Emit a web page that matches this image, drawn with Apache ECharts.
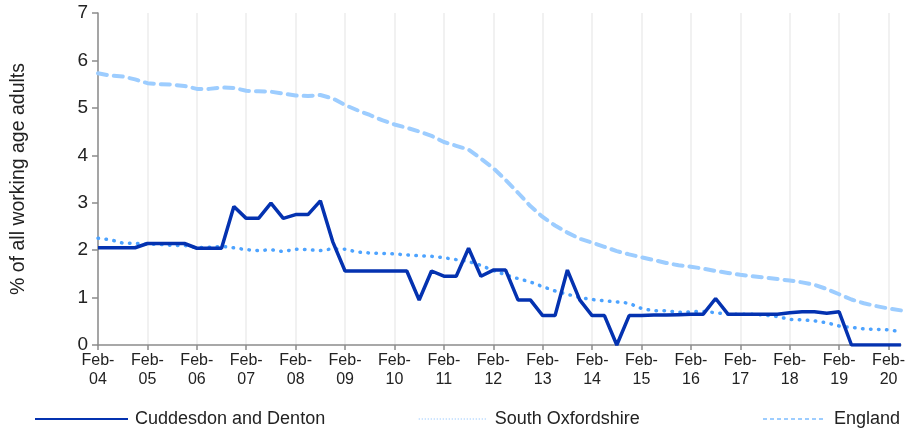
<!DOCTYPE html>
<html>
<head>
<meta charset="utf-8">
<script src="https://cdn.jsdelivr.net/npm/echarts@6/dist/echarts.min.js"></script>
<style>
  html, body { margin: 0; padding: 0; background: #fff; }
  #chart { width: 908px; height: 430px; }
</style>
</head>
<body>
<div id="chart"></div>
<script>
// quarterly points, Feb-04 .. May-20
var years = ['04','05','06','07','08','09','10','11','12','13','14','15','16','17','18','19','20'];
var months = ['Feb', 'May', 'Aug', 'Nov'];

var cuddesdon = [2.05,2.05,2.05,2.05, 2.14,2.14,2.14,2.14, 2.04,2.04,2.04,
  2.92,2.67,2.67,2.99,2.67,2.75,2.75,3.04,2.18,
  1.56,1.56,1.56,1.56,1.56,1.56,
  0.95,1.56,1.45,1.45,2.04,1.45,1.58,1.58,0.95,0.95,
  0.62,0.62,1.58,0.95,0.62,0.62,0,
  0.62,0.62,0.63,0.63,0.64,0.65,0.65,0.98,0.65,
  0.65,0.65,0.65,0.65,0.68,0.70,0.70,0.67,0.70,
  0,0,0,0,0];

var southOxon = [2.25,2.22,2.15,2.14,2.13,2.12,2.10,2.10,2.05,2.06,
  2.08,2.05,2.01,1.99,2.01,1.97,2.02,2.01,1.99,2.03,
  2.02,1.96,1.94,1.93,1.92,1.90,1.88,1.87,1.84,1.80,
  1.76,1.68,1.57,1.48,1.40,1.33,1.23,1.14,1.07,1.00,
  0.96,0.93,0.91,0.88,0.77,0.72,0.72,0.69,0.70,0.71,
  0.68,0.65,0.65,0.65,0.63,0.60,0.54,0.53,0.51,0.47,
  0.40,0.37,0.34,0.33,0.32,0.28];

var england = [5.73,5.68,5.66,5.60,5.52,5.50,5.49,5.46,5.40,5.40,
  5.43,5.42,5.36,5.35,5.34,5.30,5.26,5.25,5.27,5.20,
  5.06,4.95,4.85,4.74,4.65,4.58,4.50,4.41,4.28,4.20,
  4.12,3.93,3.73,3.48,3.21,2.93,2.70,2.52,2.37,2.24,
  2.16,2.07,1.98,1.91,1.85,1.79,1.73,1.68,1.65,1.61,
  1.56,1.52,1.48,1.45,1.42,1.39,1.36,1.32,1.27,1.18,
  1.07,0.96,0.88,0.82,0.77,0.73];

var categories = [];
for (var y = 0; y < years.length; y++) {
  for (var m = 0; m < months.length; m++) {
    if (categories.length < cuddesdon.length) categories.push(months[m] + '-' + years[y]);
  }
}

var seriesNames = ['Cuddesdon and Denton', 'South Oxfordshire', 'England'];
var font = '"Liberation Sans", Arial, sans-serif';
var noSymbol = { opacity: 0 };
function legendText(pad) {
  return { fontFamily: font, fontSize: 18, color: '#222', padding: [0, 0, 0, pad] };
}

var myChart = echarts.init(document.getElementById('chart'));
myChart.setOption({
  animation: false,
  grid: { left: 98, right: 5, top: 13, bottom: 85 },
  legend: [
    { data: [seriesNames[0]], left: 29, top: 405, itemWidth: 93, itemHeight: 14, itemGap: 0,
      itemStyle: noSymbol, lineStyle: { width: 2 }, textStyle: legendText(2) },
    { data: [seriesNames[1]], left: 413, top: 405, itemWidth: 68, itemHeight: 14,
      itemStyle: noSymbol, lineStyle: { width: 1.5, type: [1, 2], cap: 'butt', color: '#a9d2ff' }, textStyle: legendText(3) },
    { data: [seriesNames[2]], left: 757, top: 405, itemWidth: 62, itemHeight: 14,
      itemStyle: noSymbol, lineStyle: { width: 2, type: [4, 3], cap: 'butt' }, textStyle: legendText(4) }
  ],
  xAxis: {
    type: 'category',
    data: categories,
    boundaryGap: false,
    axisLine: { lineStyle: { color: '#8c8c8c', width: 1.5 } },
    axisTick: { interval: 3, length: 5, lineStyle: { color: '#8c8c8c', width: 1.5 } },
    axisLabel: {
      interval: 3,
      margin: 6,
      fontFamily: font,
      fontSize: 16,
      lineHeight: 19,
      color: '#222',
      formatter: function (v) { return v.replace('-', '-\n'); }
    },
    splitLine: { show: true, interval: 3, lineStyle: { color: '#ececec', width: 1.5 } }
  },
  yAxis: {
    type: 'value',
    min: 0,
    max: 7,
    interval: 1,
    name: '% of all working age adults',
    nameLocation: 'middle',
    nameGap: 69,
    nameTextStyle: { fontFamily: font, fontSize: 19.5, color: '#222' },
    axisLine: { show: true, lineStyle: { color: '#8c8c8c', width: 1.5 } },
    axisTick: { show: true, length: 6, lineStyle: { color: '#8c8c8c', width: 1.5 } },
    axisLabel: { fontFamily: font, fontSize: 19, color: '#222', margin: 10 },
    splitLine: { show: false }
  },
  series: [
    {
      name: seriesNames[1], type: 'line', data: southOxon, symbol: 'none', z: 2,
      color: '#4da3ff',
      lineStyle: { color: '#4da3ff', width: 3.5, type: [0.5, 7.5], cap: 'round' }
    },
    {
      name: seriesNames[2], type: 'line', data: england, symbol: 'none', z: 1,
      color: '#9dcdff',
      lineStyle: { color: '#9dcdff', width: 4, type: [9, 7], cap: 'round' }
    },
    {
      name: seriesNames[0], type: 'line', data: cuddesdon, symbol: 'none', z: 3,
      color: '#0432b0',
      lineStyle: { color: '#0432b0', width: 3.5 }
    }
  ]
});
</script>
</body>
</html>
